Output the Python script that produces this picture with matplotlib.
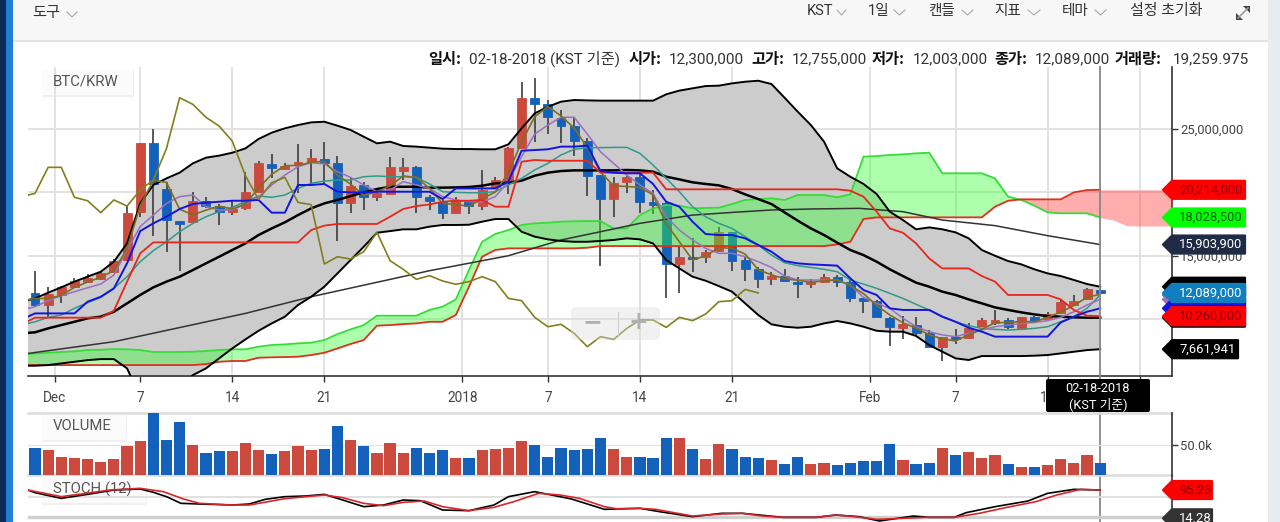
import numpy as np
import matplotlib
matplotlib.use("Agg")
import matplotlib.pyplot as plt
from matplotlib.patches import Rectangle, Polygon, FancyBboxPatch
from matplotlib.transforms import Affine2D
from matplotlib.ticker import FuncFormatter

plt.rcParams["font.family"] = ["Roboto", "Noto Sans CJK KR", "DejaVu Sans"]

W, H = 1280, 522

# --- data: prices in million KRW, volume in thousands ---
# Candles: day 0 = Nov 29 2017, day 81 = Feb 18 2018
opens = [12.06,11.14,11.93,12.53,12.92,13.16,13.76,14.68,18.43,23.87,20.27,17.78,17.70,19.33,18.93,18.43,18.75,20.06,22.27,21.85,
         22.14,22.40,22.66,22.29,19.14,20.59,19.67,19.85,21.72,21.98,19.62,19.27,18.41,19.27,18.96,20.40,20.72,23.47,27.46,26.94,
         25.84,25.26,24.05,21.37,19.46,20.80,21.19,19.27,19.14,14.34,14.94,14.94,15.42,16.86,14.68,13.95,13.16,13.45,12.98,12.77,
         12.98,13.37,12.98,11.66,11.48,10.09,9.35,9.56,8.96,7.86,8.65,8.51,9.51,9.70,9.96,9.35,10.17,10.01,10.48,11.14,11.58,12.30]
closes = [11.14,11.98,12.58,13.03,13.24,13.68,14.63,18.36,23.87,20.67,17.83,17.54,19.35,18.93,18.49,18.70,20.06,22.29,21.95,22.08,
          22.37,22.69,22.29,19.14,20.53,19.67,19.93,21.98,21.98,19.62,19.35,18.41,19.41,18.93,20.19,20.98,23.47,27.46,26.94,25.92,
          25.23,24.05,21.32,19.46,20.77,21.19,19.22,19.04,14.37,14.94,14.76,15.34,16.86,14.63,13.95,13.16,13.45,13.03,12.77,12.98,
          13.37,12.98,11.66,11.48,10.17,9.43,9.62,8.91,7.86,8.65,8.43,9.30,9.96,9.96,9.38,10.17,9.91,10.43,11.40,11.48,12.37,12.089]
highs = [13.82,12.58,12.63,13.24,13.58,13.84,14.76,19.01,23.87,25.00,20.85,17.78,20.06,19.62,19.09,19.41,21.64,22.48,23.00,22.29,
         23.79,23.40,24.00,22.87,21.11,20.85,20.19,22.77,22.69,22.11,19.80,19.41,19.67,19.41,21.77,21.24,23.55,28.67,28.99,27.28,
         26.49,25.92,24.26,21.37,21.24,21.30,21.51,20.19,19.27,15.73,16.39,15.47,17.31,16.91,14.94,14.10,13.76,14.00,13.37,13.19,
         13.58,13.50,13.11,11.66,11.53,10.22,10.30,10.22,9.17,8.65,9.22,9.70,10.09,10.75,10.09,10.22,10.27,10.56,11.53,11.93,12.45,12.755]
lows = [11.01,10.17,11.32,12.45,12.84,13.11,13.71,14.60,18.09,16.60,15.34,13.84,17.65,18.75,17.44,18.22,18.62,20.06,21.11,21.77,
        19.93,20.72,20.72,16.20,18.41,18.62,19.33,19.80,20.98,18.41,18.62,17.94,18.30,18.30,18.62,20.32,19.85,23.47,24.00,24.60,
        23.92,22.90,19.72,14.24,18.09,19.93,18.36,18.30,11.66,12.06,13.71,14.42,15.34,13.84,13.03,12.45,12.71,12.92,11.66,12.50,
        12.92,12.58,11.40,10.54,10.17,7.94,8.43,8.78,7.80,6.76,8.07,8.43,9.43,9.56,9.25,9.30,9.77,9.96,10.43,11.09,11.53,12.003]
volume = [45.6,41.7,30.6,28.9,26.7,22.2,26.7,47.8,56.1,102.8,58.3,88.3,50.0,37.2,39.4,39.4,53.9,41.7,35.0,39.4,
          47.8,41.7,43.3,81.7,58.3,47.8,37.2,53.9,37.2,45.6,37.2,41.7,28.9,28.9,41.7,43.3,45.6,56.1,50.0,30.6,
          45.6,41.7,43.3,62.2,43.3,30.6,30.6,28.9,61.1,61.1,43.9,26.7,52.2,43.9,30.6,28.9,25.0,18.3,30.6,18.3,
          20.6,16.1,20.6,22.8,22.8,52.2,24.4,18.3,20.6,45.6,33.3,37.8,28.9,33.3,18.3,13.9,13.9,16.1,26.7,20.6,33.3,19.26]

# Indicator lines, day -1 .. 81
bb_upper = [11.40,11.66,12.11,12.53,12.98,13.37,13.76,14.55,15.99,19.14,20.59,21.11,21.56,22.29,22.74,22.90,23.13,23.47,24.21,24.71,
            25.05,25.31,25.52,25.57,25.26,24.92,24.39,23.87,24.00,23.66,23.61,23.53,23.45,23.42,23.42,23.40,23.40,23.79,25.05,26.23,
            26.75,27.15,27.28,27.25,27.23,27.23,27.23,27.23,27.23,27.73,28.02,28.20,28.38,28.41,28.59,28.72,28.80,28.54,27.46,26.36,
            25.31,24.00,21.90,21.24,20.67,19.88,18.49,17.83,17.10,17.25,17.10,16.86,16.39,15.47,15.02,14.60,14.34,13.95,13.63,13.42,
            13.11,12.79,12.58]
bb_lower = [6.36,6.36,6.41,6.54,6.67,6.80,6.88,6.88,6.15,3.92,2.61,2.87,4.57,5.62,6.15,6.94,7.72,8.43,9.11,9.69,
            10.22,11.14,11.79,12.58,13.63,14.68,15.73,16.83,16.96,17.10,17.10,17.31,17.44,17.44,17.46,17.70,17.91,17.91,16.91,16.52,
            16.31,16.18,16.12,16.12,16.18,16.26,16.39,16.31,15.99,14.68,14.02,13.37,13.05,12.63,12.19,11.27,10.35,9.62,9.43,9.35,
            9.43,9.69,9.88,9.69,9.43,9.11,9.04,9.04,8.70,7.99,7.46,6.94,6.81,7.12,7.12,7.12,7.12,7.15,7.20,7.33,
            7.46,7.59,7.66]
bb_mid = [8.91,8.99,9.30,9.56,9.82,10.09,10.22,10.61,11.27,11.93,12.53,12.98,13.37,13.89,14.42,14.94,15.47,15.99,16.65,17.17,
          17.65,18.22,18.75,19.14,19.41,19.72,20.01,20.27,20.45,20.45,20.45,20.38,20.38,20.40,20.43,20.53,20.72,20.77,20.93,21.32,
          21.56,21.69,21.74,21.74,21.74,21.74,21.77,21.74,21.64,21.24,21.03,20.80,20.67,20.56,20.27,19.85,19.48,19.09,18.43,17.78,
          17.17,16.65,16.05,15.47,15.07,14.55,13.95,13.42,12.90,12.58,12.19,11.93,11.58,11.27,10.95,10.75,10.56,10.40,10.27,10.22,
          10.17,10.14,10.14]
tenkan = [10.01,10.48,10.48,10.48,10.48,11.40,11.79,12.45,14.42,16.96,17.57,18.09,18.70,19.09,19.20,19.27,19.35,19.35,19.41,18.41,
          18.41,20.59,20.59,20.67,20.06,20.01,20.01,20.06,20.06,20.06,20.06,20.06,19.48,20.32,20.32,20.32,20.32,20.85,23.29,23.34,
          23.40,23.61,23.61,23.69,21.69,21.56,21.51,21.51,20.67,19.27,18.88,17.70,16.73,16.65,16.65,16.39,15.86,15.34,14.60,14.42,
          14.34,14.29,14.24,13.24,12.32,11.93,10.88,10.75,10.75,10.75,10.22,9.82,9.35,9.04,8.65,8.65,8.65,8.65,8.65,9.77,
          10.22,10.61,10.88]
kijun = [9.62,10.14,10.14,10.14,10.14,10.14,10.14,10.69,12.98,15.21,16.07,16.07,16.07,16.07,16.07,16.07,16.07,16.07,16.07,16.07,
         16.07,16.07,17.04,17.39,17.52,17.52,17.52,17.52,18.09,18.70,18.93,19.06,19.27,19.35,19.35,19.41,18.88,18.88,22.42,22.56,
         22.50,22.50,22.50,22.50,21.56,21.56,21.56,21.56,21.56,20.25,20.25,20.25,20.25,20.25,20.25,20.25,20.25,20.25,20.25,20.25,
         20.25,20.25,20.25,20.14,19.67,18.49,17.17,16.83,15.99,14.81,14.02,14.02,14.02,13.42,12.98,11.93,11.93,11.93,11.93,11.58,
         10.75,10.30,10.26]
ma_purple = [10.75,11.01,11.48,11.87,12.19,12.50,12.79,13.50,15.47,17.31,18.22,19.14,19.67,19.80,18.88,18.62,18.62,19.09,19.67,20.59,
             21.37,22.03,22.35,22.24,21.64,21.19,20.59,20.06,20.19,20.85,20.59,20.32,19.67,19.41,19.27,19.27,19.67,20.85,22.82,24.60,
             25.31,25.92,25.92,24.60,23.21,22.29,21.37,20.59,19.93,18.09,17.04,16.26,15.60,15.21,15.21,14.94,14.55,14.10,13.42,13.11,
             13.11,13.11,13.11,12.71,11.74,11.27,10.88,10.09,9.43,9.04,8.78,8.65,8.91,9.17,9.43,9.56,9.69,9.77,9.91,10.17,
             10.61,11.14,11.58]
ma_teal = [9.56,9.82,10.17,10.35,10.88,11.32,11.74,12.45,13.37,14.55,15.42,16.12,16.91,17.57,18.09,18.49,18.83,19.27,19.72,19.62,
           19.80,20.32,20.72,20.90,20.98,20.98,21.24,21.30,21.24,21.24,21.19,20.67,20.06,20.01,19.98,19.98,20.06,20.59,21.11,21.77,
           22.29,22.95,23.40,23.53,23.53,23.55,23.55,23.08,22.16,21.11,20.06,18.88,18.09,17.57,17.17,16.52,15.86,15.07,14.47,14.24,
           14.10,13.95,13.76,13.11,12.79,12.45,12.06,11.66,11.19,10.75,10.22,9.82,9.51,9.30,9.22,9.17,9.22,9.30,9.43,9.82,
           10.22,10.88,11.93]
ma_fast = [11.48,11.65,11.65,11.90,12.53,12.95,13.32,13.85,15.56,18.95,20.97,20.79,18.68,18.24,18.61,18.92,18.71,19.08,20.35,21.43,
           22.11,22.13,22.38,22.45,21.37,20.65,19.78,20.04,20.53,21.30,21.19,20.32,19.13,19.06,18.92,19.51,20.03,21.55,23.97,25.96,
           26.77,26.03,25.07,23.53,21.61,20.52,20.47,20.39,19.82,17.54,16.12,14.69,15.01,15.65,15.61,15.15,13.91,13.52,13.21,13.08,
           12.93,13.04,13.11,12.67,12.04,11.10,10.36,9.74,9.32,8.80,8.47,8.31,8.79,9.23,9.74,9.77,9.84,9.82,10.17,10.58,
           11.10,11.75,11.98]

# Slow average read at its bends only
ma_long_days = [-0.5,6,16,21,30,36,40,43,46,50,53,56,59,62.7,66,69,73,77,81]
ma_long = [7.33,8.25,10.48,11.79,13.84,15.02,16.26,16.91,17.57,18.22,18.43,18.62,18.70,18.75,18.49,17.83,17.39,16.60,15.90]

# Ichimoku cloud, day -1 .. 87
span_a = [7.20,7.33,7.38,7.44,7.49,7.59,7.62,7.67,7.65,7.59,7.44,7.44,7.44,7.46,7.52,7.59,7.65,7.65,7.86,7.99,
          8.04,8.12,8.17,8.38,8.85,9.22,9.56,10.30,10.30,10.30,10.30,10.75,11.01,11.58,13.89,16.12,16.73,17.04,17.44,17.57,
          17.62,17.70,17.73,17.75,17.75,17.17,17.17,18.22,18.75,19.01,18.96,18.75,18.78,18.80,19.09,19.41,19.48,19.54,19.41,19.80,
          19.80,19.80,19.62,19.85,22.82,22.87,22.95,23.00,23.08,23.13,21.51,21.51,21.51,21.51,21.11,19.67,19.41,18.96,18.43,18.36,
          18.36,18.36,18.03,17.83,17.39,17.36,17.36,17.36,17.36]
span_b = [6.41,6.41,6.41,6.41,6.41,6.41,6.41,6.41,6.41,6.41,6.41,6.41,6.41,6.41,6.49,6.67,6.73,6.73,6.99,7.02,
          7.04,7.07,7.20,7.38,7.72,8.07,8.38,9.51,9.56,9.64,9.69,9.82,9.82,10.35,12.58,14.94,15.47,15.60,15.60,15.60,
          15.60,15.60,15.60,15.65,15.78,15.78,15.78,15.78,15.78,15.78,15.78,15.78,15.78,15.78,15.78,15.78,15.78,15.78,15.78,15.78,
          15.78,15.78,15.91,16.12,17.91,18.04,18.04,18.04,18.04,18.04,18.04,18.04,18.04,18.04,18.88,19.35,19.46,19.46,19.46,19.46,
          20.01,20.19,20.21,20.21,20.21,20.21,20.21,20.21,20.21]

# Stochastic, read at its bends
stoch_k_days = [-0.55,0,2,4,6,8,9,10,11.1,12.5,15,16.3,17.5,19,20.6,22,23.4,25,26.5,28,29.3,31,33,34.9,36,38,40.8,43.3,46,
                47.5,50,52.2,53.8,56.9,59.4,60.9,62.7,64.2,66.8,68,69.9,70.8,73,75.5,77,79,81]
stoch_k = [95.2,87.6,71.4,82.8,95.2,98.1,88.6,76.2,57.1,55.2,52.3,55.2,68.5,76.2,78.1,82.8,66.6,47.5,52.3,66.6,64.7,38.0,36.1,52.3,76.2,90.5,69.5,39.9,42.8,
           33.2,18.9,28.5,28.5,17.0,17.0,23.7,18.9,6.5,20.8,17.0,17.0,30.4,47.5,63.7,85.7,97.1,95.2]
stoch_d_days = [-0.55,0.75,2,3.9,5.7,8,9.75,11.3,12.5,15,16.3,19,22,23.4,25,26.5,28,29.6,31,33,34.9,36.4,38.3,39.9,41.4,43.3,44.2,46,
                47.2,50,52.2,53.8,55.3,56.9,59.4,60.9,62.4,64,65.9,67.8,69.9,71.8,73.9,76.1,77.7,79.5,81]
stoch_d = [95.2,85.7,76.2,85.7,95.2,100.0,90.5,69.5,57.1,52.3,52.3,70.4,81.0,73.3,57.1,50.4,59.9,63.7,47.5,36.1,45.6,61.8,85.7,81.0,71.4,47.5,41.8,42.8,
           39.9,20.8,26.6,28.5,20.8,17.0,17.0,23.7,18.9,11.3,14.1,17.0,17.0,28.5,45.6,61.8,81.0,97.1,95.23]

tick_days = [1.5,8,15,22,32.5,39,46,53,63.5,70,77,84]
tick_names = ["Dec","7","14","21","2018","7","14","21","Feb","7","14","21"]

header_parts = [(428,"일시:",True),(469,"02-18-2018 (KST 기준)",False),(629,"시가:",True),(669,"12,300,000",False),
                (751,"고가:",True),(792,"12,755,000",False),(872,"저가:",True),(913,"12,003,000",False),
                (994,"종가:",True),(1035,"12,089,000",False),(1115,"거래량:",True),(1173,"19,259.975",False)]
menu_items = [(807,"KST",(837,846)),(868,"1일",(894,905)),(928,"캔들",(962,973)),(994,"지표",(1028,1040)),(1062,"테마",(1095,1106))]

RED = "#cb4a3d"
BLUE = "#1461bb"
GREY_TXT = "#444444"

fig = plt.figure(figsize=(W / 100, H / 100), dpi=100, facecolor="white")
# pixel coordinates with origin top-left, used only for page furniture
px_tf = Affine2D().scale(1, -1).translate(0, H)


def make_axes(x0, y0, x1, y1):
    return fig.add_axes([x0 / W, 1 - y1 / H, (x1 - x0) / W, (y1 - y0) / H], facecolor="none")


def page_rect(x0, y0, x1, y1, color, zorder=-5):
    fig.add_artist(Rectangle((x0, y0), x1 - x0, y1 - y0, transform=px_tf, fc=color, ec="none", zorder=zorder))


def chevron(x0, x1, y=10):
    fig.add_artist(plt.Line2D([x0, (x0 + x1) / 2, x1], [y, y + 5, y], transform=px_tf, color="#a8a8a8", lw=0.8))


def chip(ax, x0, y0, x1, y1, label):
    ax.add_patch(Rectangle((x0 + 1, y0 + 1.5), x1 - x0, y1 - y0, transform=px_tf, fc="#000000", alpha=0.06, ec="none", clip_on=False, zorder=0.4))
    ax.add_patch(Rectangle((x0, y0), x1 - x0, y1 - y0, transform=px_tf, fc="white", alpha=0.75, ec="none", clip_on=False, zorder=0.5))
    ax.text(x0 + 12, (y0 + y1) / 2, label, transform=px_tf, fontsize=10.7, color="#555555", va="center", ha="left", clip_on=False, zorder=0.6)


def price_tag(ax, value, label, fc, tc, x1=1246, z=6):
    # tag follows the value through the axes scale
    y = H - ax.transData.transform((0, value))[1]
    pts = [(1163, y), (1172, y - 9), (x1 - 1, y - 9), (x1 - 1, y + 9), (1172, y + 9)]
    fig.add_artist(Polygon(pts, closed=True, transform=px_tf, fc=fc, ec=fc, lw=1.6, joinstyle="round", zorder=z))
    if label:
        fig.text(1179, y, label, transform=px_tf, fontsize=9.4, color=tc, va="center", ha="left", zorder=z + 0.1)


# --- page furniture ---
page_rect(0, 0, W, 40, "#f7f7f7")
page_rect(0, 40, W, 41.5, "#e2e2e2")
page_rect(0, 0, 6, H, "#0b2b52")
page_rect(6, 0, 13, H, "#1f7fd6")
page_rect(1268, 0, W, H, "#e9ecef")

fig.text(32, 13, "도구", transform=px_tf, fontsize=11, color="#333333", va="center")
chevron(67, 77, y=12)
for x, txt, (c0, c1) in menu_items:
    fig.text(x, 11, txt, transform=px_tf, fontsize=10.5, color="#333333", va="center")
    chevron(c0, c1)
fig.text(1130, 11, "설정 초기화", transform=px_tf, fontsize=10.8, color="#333333", va="center")
fig.add_artist(Polygon([(1243, 6), (1250, 6), (1250, 13)], transform=px_tf, fc="#444444", ec="none"))
fig.add_artist(Polygon([(1236, 13), (1236, 20), (1243, 20)], transform=px_tf, fc="#444444", ec="none"))
fig.add_artist(plt.Line2D([1238, 1248], [18, 8], transform=px_tf, color="#999999", lw=1.2))

for x, txt, is_bold in header_parts:
    fig.text(x, 59, txt, transform=px_tf, fontsize=11, color="#111111" if is_bold else "#333333",
             fontweight="bold" if is_bold else "normal", va="center", ha="left",
             family=["Noto Sans CJK KR", "Roboto"] if is_bold else ["Roboto", "Noto Sans CJK KR"])

# --- price panel ---
ax = make_axes(28, 67, 1172, 376)
days = np.arange(len(closes))
line_days = np.arange(-1, len(closes))
cloud_days = np.arange(-1, 88)

ax.fill_between(line_days, bb_lower, bb_upper, color="#cccccc", lw=0, zorder=1)

bodies_lo = np.minimum(opens, closes)
bodies_h = np.abs(np.array(opens) - np.array(closes))
colors = [BLUE if c < o else RED for o, c in zip(opens, closes)]
ax.vlines(days, lows, highs, color="#3d3d3d", lw=1.2, zorder=2)
ax.bar(days, bodies_h, bottom=bodies_lo, width=0.68, color=colors, linewidth=0.6, edgecolor=colors, zorder=3)

a = np.array(span_a)
b = np.array(span_b)
ax.fill_between(cloud_days, a, b, where=a >= b, interpolate=True, color="#33ff33", alpha=0.4, lw=0, zorder=4)
ax.fill_between(cloud_days, a, b, where=a <= b, interpolate=True, color="#ff3333", alpha=0.4, lw=0, zorder=4)
ax.plot(cloud_days[:83], span_a[:83], color="#35dd35", lw=1.3, zorder=5)
ax.plot(cloud_days[:83], span_b[:83], color="#e0301e", lw=1.3, zorder=5)

ax.plot(ma_long_days, ma_long, color="#333333", lw=1.1, zorder=5)
ax.plot(line_days, bb_upper, color="black", lw=1.4, zorder=5)
ax.plot(line_days, bb_lower, color="black", lw=1.4, zorder=5)
ax.plot(line_days, bb_mid, color="black", lw=1.8, zorder=5)
ax.plot(line_days, ma_teal, color="#2f9a8a", lw=1.1, zorder=5)
ax.plot(line_days, ma_purple, color="#9a6fc0", lw=1.1, zorder=5)
ax.plot(line_days, ma_fast, color="#7f6f22", lw=1.2, zorder=5)
ax.plot(line_days, kijun, color="#e8261c", lw=1.3, zorder=6)
ax.plot(line_days, tenkan, color="#1414e0", lw=1.4, zorder=6)
# lagging span: closes shifted back 26 days
ax.plot(days[25:] - 26, closes[25:], color="#80801e", lw=1.2, zorder=6)

ax.set_xlim(-0.532, 86.46)
ax.set_ylim(5.55, 29.88)
ax.set_xticks(tick_days, tick_names)
ax.set_yticks([10, 15, 20, 25])
ax.yaxis.set_major_formatter(FuncFormatter(lambda v, _: f"{v * 1e6:,.0f}"))
ax.yaxis.tick_right()
ax.grid(color="#e2e2e2", lw=1.4)
ax.set_axisbelow(True)
for side in ["top", "left"]:
    ax.spines[side].set_visible(False)
for side in ["bottom", "right"]:
    ax.spines[side].set_color("#333333")
    ax.spines[side].set_linewidth(1.2)
ax.tick_params(axis="x", length=4, width=1, color="#333333", labelsize=9.8, labelcolor=GREY_TXT, pad=7)
ax.tick_params(axis="y", length=4, width=1, color="#333333", labelsize=9.4, labelcolor=GREY_TXT, pad=2)
chip(ax, 41, 68, 133, 95, "BTC/KRW")

# zoom widget sitting on the chart
ax.add_patch(FancyBboxPatch((573, 309), 85, 29, boxstyle="round,pad=2,rounding_size=5", transform=px_tf,
                            fc="#dddddd", ec="none", alpha=0.4, zorder=7, clip_on=False))
ax.text(592, 322, "−", transform=px_tf, fontsize=17, fontweight="bold", color="#b0b0b0", ha="center", va="center", zorder=8, family="DejaVu Sans")
ax.text(638, 322, "+", transform=px_tf, fontsize=17, fontweight="bold", color="#b0b0b0", ha="center", va="center", zorder=8, family="DejaVu Sans")
ax.plot([618, 618], [312, 335], transform=px_tf, color="#cfcfcf", lw=0.8, zorder=8, clip_on=False)

# crosshair runs down through all three panels
ax.axvline(81, ymin=-0.475, ymax=1, color="#888888", lw=1.3, clip_on=False, zorder=9)

# --- volume panel ---
ax_vol = make_axes(28, 413, 1172, 475)
ax_vol.bar(days, volume, width=0.85, color=colors, linewidth=0, zorder=2)
ax_vol.set_xlim(ax.get_xlim())
ax_vol.set_ylim(0, 103.3)
ax_vol.set_xticks([])
ax_vol.set_yticks([50], ["50.0k"])
ax_vol.yaxis.tick_right()
ax_vol.grid(axis="y", color="#e4e4e4", lw=1)
ax_vol.set_axisbelow(True)
for side in ["top", "left", "bottom"]:
    ax_vol.spines[side].set_visible(False)
ax_vol.spines["right"].set_color("#333333")
ax_vol.spines["right"].set_linewidth(1.2)
ax_vol.tick_params(axis="y", length=4, width=1, color="#333333", labelsize=9.4, labelcolor=GREY_TXT, pad=2)
ax_vol.axhline(103.3, color="#dcdcdc", lw=1.8, clip_on=False, zorder=1)
ax_vol.axhline(0, color="#dcdcdc", lw=1.8, clip_on=False, zorder=1)
chip(ax_vol, 41, 413, 126, 440, "VOLUME")

# --- stochastic panel ---
ax_st = make_axes(28, 476, 1172, 522)
ax_st.axhline(76, color="#dcdcdc", lw=1.2, zorder=1)
ax_st.axhline(17, color="#cfcfcf", lw=2.4, zorder=1)
chip(ax_st, 41, 476, 146, 503, "STOCH (12)")
ax_st.plot(stoch_k_days, stoch_k, color="black", lw=1.2, zorder=3)
ax_st.plot(stoch_d_days, stoch_d, color="#d8262c", lw=1.2, zorder=3)
ax_st.set_xlim(ax.get_xlim())
ax_st.set_ylim(3.7, 135.3)
ax_st.set_xticks([])
ax_st.set_yticks([])
for side in ["top", "left", "bottom"]:
    ax_st.spines[side].set_visible(False)
ax_st.spines["right"].set_color("#333333")
ax_st.spines["right"].set_linewidth(1.2)

# --- value tags on the right, stacked like the chart stacks them ---
price_tag(ax, bb_upper[-1], None, "black", "black", z=6.0)
price_tag(ax, ma_teal[-1], None, "#2f9a8a", "#2f9a8a", z=6.1)
price_tag(ax, ma_purple[-1], None, "#9a6fc0", "#9a6fc0", z=6.2)
price_tag(ax, tenkan[-1], None, "#1414e0", "#101080", z=6.4)
price_tag(ax, bb_mid[-1], None, "#111111", "#111111", z=6.5)
price_tag(ax, closes[-1], "12,089,000", "#0f7fc0", "white", z=6.6)
price_tag(ax, kijun[-1], "10,260,000", "#ff0000", "#8a0000", z=6.8)
price_tag(ax, span_b[82], "20,214,000", "#ff0000", "#8a0000", z=7.0)
price_tag(ax, span_a[82], "18,028,500", "#00ff00", "#0a5c0a", z=7.2)
price_tag(ax, ma_long[-1], "15,903,900", "#1f2a44", "white", z=7.4)
price_tag(ax, bb_lower[-1], "7,661,941", "black", "white", x1=1239, z=7.6)
price_tag(ax_st, stoch_d[-1], "95.23", "#ff0000", "#8a0000", x1=1213, z=7.8)
price_tag(ax_st, 14.28, "14.28", "#333333", "white", x1=1213, z=7.9)

# date tooltip over the x axis
fig.add_artist(FancyBboxPatch((1048, 381), 100, 29, boxstyle="round,pad=2,rounding_size=2", transform=px_tf, fc="black", ec="none", zorder=10))
fig.text(1098, 388, "02-18-2018", transform=px_tf, fontsize=9.2, color="white", ha="center", va="center", zorder=11)
fig.text(1098, 404, "(KST 기준)", transform=px_tf, fontsize=9.2, color="white", ha="center", va="center", zorder=11)

fig.savefig("out.png", dpi=100)
